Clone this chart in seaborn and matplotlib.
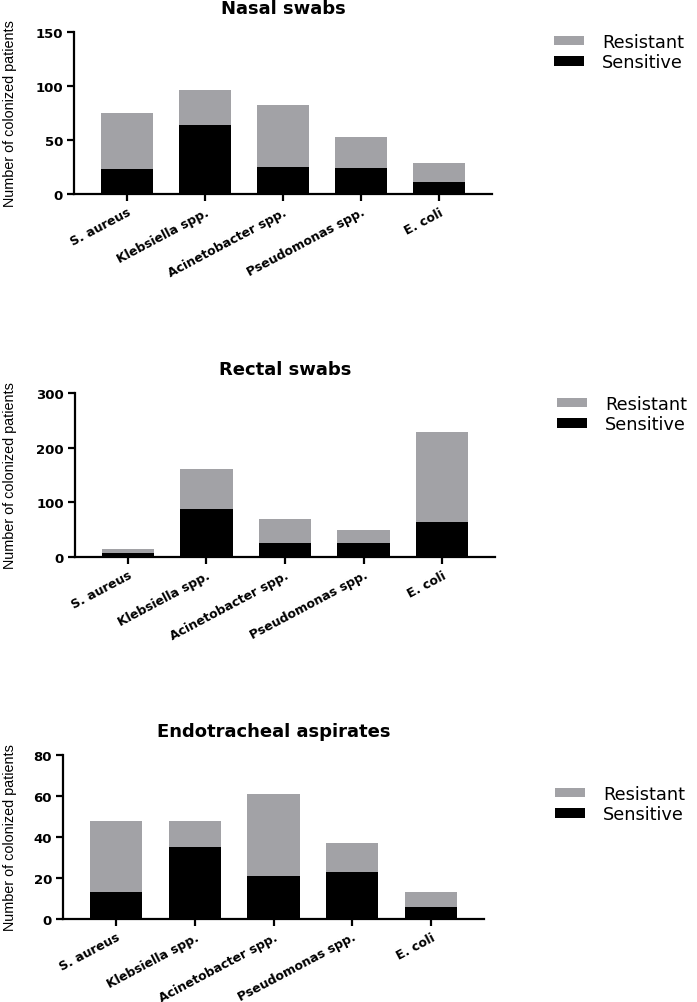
import matplotlib
matplotlib.use("Agg")
import matplotlib.pyplot as plt
import seaborn as sns
from matplotlib.patches import Patch

# ---------------- data ----------------
categories = ["S. aureus", "Klebsiella spp.", "Acinetobacter spp.", "Pseudomonas spp.", "E. coli"]

nasal_sensitive = [23, 64, 25, 24, 11]
nasal_resistant = [52, 32, 57, 29, 18]

rectal_sensitive = [7, 88, 26, 25, 64]
rectal_resistant = [8, 73, 44, 25, 165]

endo_sensitive = [13, 35, 21, 23, 6]
endo_resistant = [35, 13, 40, 14, 7]

titles = ["Nasal swabs", "Rectal swabs", "Endotracheal aspirates"]
y_limits = [150, 300, 80]
y_ticks = [[0, 50, 100, 150], [0, 100, 200, 300], [0, 20, 40, 60, 80]]
ylabel = "Number of colonized patients"
legend_labels = ["Resistant", "Sensitive"]

# ---------------- style ----------------
GRAY = "#a2a2a6"
BLACK = "#000000"
W, H = 697, 1003
fig = plt.figure(figsize=(W / 100, H / 100), dpi=100)

# axes boxes in pixels: left, top, right, bottom
boxes = [(74, 33, 492, 195), (75, 394, 495, 558), (63, 756, 484, 920)]
legend_pos = [(554, 34), (557, 396), (555, 786)]
ylabel_right = [17, 17, 17]

panels = [(nasal_sensitive, nasal_resistant),
          (rectal_sensitive, rectal_resistant),
          (endo_sensitive, endo_resistant)]

for i, ((sens, res), box) in enumerate(zip(panels, boxes)):
    l, t, r, b = box
    ax = fig.add_axes([l / W, 1 - b / H, (r - l) / W, (b - t) / H])
    totals = [s + q for s, q in zip(sens, res)]
    sns.barplot(x=categories, y=totals, color=GRAY, saturation=1, width=0.665,
                ax=ax, order=categories)
    sns.barplot(x=categories, y=sens, color=BLACK, saturation=1, width=0.665,
                ax=ax, order=categories)
    ax.set_xlim(-0.675, 4.675)
    ax.set_ylim(0, y_limits[i])
    ax.set_yticks(y_ticks[i])
    ax.set_xlabel("")
    for sp in ["top", "right"]:
        ax.spines[sp].set_visible(False)
    for sp in ["left", "bottom"]:
        ax.spines[sp].set_linewidth(1.6)
        ax.spines[sp].set_color("black")
    ax.tick_params(axis="both", direction="out", width=1.6, length=5, color="black")
    ax.tick_params(axis="y", pad=3)
    ax.tick_params(axis="x", pad=3)
    for lab in ax.get_yticklabels():
        lab.set_fontfamily("DejaVu Sans")
        lab.set_fontweight("bold")
        lab.set_fontsize(9.5)
    ax.set_xticks(range(len(categories)))
    ax.set_xticklabels(categories, rotation=28, ha="right", rotation_mode="anchor",
                       fontsize=9, fontweight="bold", family="DejaVu Sans")
    ax.set_title(titles[i], fontsize=13, fontweight="bold", family="DejaVu Sans", pad=13.5)
    ax.set_ylabel(ylabel, fontsize=10.4, family="Liberation Sans")
    ax.yaxis.set_label_coords((ylabel_right[i] - l) / (r - l), 0.5)

    handles = [Patch(facecolor=GRAY, edgecolor="none"), Patch(facecolor=BLACK, edgecolor="none")]
    lx, ly = legend_pos[i]
    fig.legend(handles, legend_labels, loc="upper left",
               bbox_to_anchor=(lx / W, 1 - ly / H), bbox_transform=fig.transFigure,
               frameon=False, borderpad=0, borderaxespad=0,
               handlelength=1.7, handleheight=0.45, handletextpad=1.0,
               labelspacing=0.12, prop={"family": "DejaVu Sans", "size": 12.8})

fig.savefig("out.png", dpi=100)
